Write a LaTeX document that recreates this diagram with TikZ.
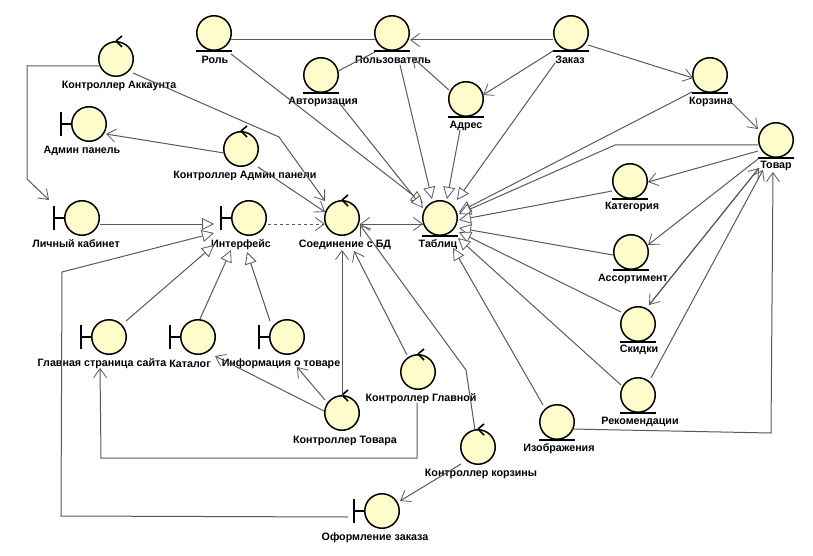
\documentclass[tikz,border=0pt]{standalone}
\usepackage{fontspec}
\setmainfont{Liberation Sans}
\usetikzlibrary{arrows.meta}

\tikzset{
  icon/.style={draw=black,line width=1.5pt,circle,fill=yellow!20,minimum size=34.5pt,inner sep=0pt},
  entity/.style={icon,append after command={([shift={(-18,18)}]\tikzlastnode.center) edge[mark line] ([shift={(18,18)}]\tikzlastnode.center)}},
  boundary/.style={icon,append after command={([shift={(-28,-12)}]\tikzlastnode.center) edge[mark line] ([shift={(-28,12)}]\tikzlastnode.center) ([shift={(-28,0)}]\tikzlastnode.center) edge[mark line] ([shift={(-17,0)}]\tikzlastnode.center)}},
  control/.style={icon,append after command={([shift={(6,-23)}]\tikzlastnode.center) edge[mark line] ([shift={(0,-18)}]\tikzlastnode.center) ([shift={(6,-12)}]\tikzlastnode.center) edge[mark line] ([shift={(0,-18)}]\tikzlastnode.center)}},
  mark line/.style={draw=black,line width=1.6pt},
  lbl/.style={font=\bfseries\fontsize{10.7}{12}\selectfont,inner sep=0pt,yshift=-1.5pt},
  link/.style={draw=black!65,line width=1pt},
  open/.style={link,-{Straight Barb[length=9pt,width=13pt,line width=0.8pt]}},
  hollow/.style={link,-{Triangle[length=12pt,width=12pt,fill=white,line width=0.8pt]}},
}

\begin{document}
\begin{tikzpicture}[x=1pt,y=-1pt]
\useasboundingbox (0,0) rectangle (813,556);

\node[entity] (role) at (214,33) {};
\node[entity] (user) at (392,33) {};
\node[entity] (order) at (571,33) {};
\node[entity] (auth) at (321,75) {};
\node[entity] (addr) at (466,99) {};
\node[entity] (cart) at (710,75) {};
\node[entity] (item) at (776,140) {};
\node[entity] (cat) at (630,181) {};
\node[entity] (range) at (631,252) {};
\node[entity] (sale) at (638,324) {};
\node[entity] (recs) at (638,395) {};
\node[entity] (imgs) at (557,422) {};
\node[entity] (tabl) at (440,218) {};

\node[boundary] (admin) at (89,124) {};
\node[boundary] (cabinet) at (82,218) {};
\node[boundary] (iface) at (249,218) {};
\node[boundary] (home) at (109,337) {};
\node[boundary] (catalog) at (198,337) {};
\node[boundary] (info) at (287,337) {};
\node[boundary] (checkout) at (382,511) {};

\node[control] (cacc) at (116,59) {};
\node[control] (cadmin) at (241,149) {};
\node[control] (db) at (342,218) {};
\node[control] (citem) at (342,413) {};
\node[control] (chome) at (418,372) {};
\node[control] (ccart) at (478,447) {};

\node[lbl] (rolel) at (215,58) {Роль};
\node[lbl] (userl) at (393,58) {Пользователь};
\node[lbl] (orderl) at (570,58) {Заказ};
\node[lbl] (authl) at (323,100) {Авторизация};
\node[lbl] (addrl) at (466,124) {Адрес};
\node[lbl] (cartl) at (711,100) {Корзина};
\node[lbl] (iteml) at (776,164) {Товар};
\node[lbl] (catl) at (632,205) {Категория};
\node[lbl] (rangel) at (633,277) {Ассортимент};
\node[lbl] (salel) at (639,348) {Скидки};
\node[lbl] (recsl) at (640,420) {Рекомендации};
\node[lbl] (imgsl) at (559,447) {Изображения};
\node[lbl] (tabll) at (438,243) {Таблиц};
\node[lbl] (adminl) at (82,149) {Админ панель};
\node[lbl] (cabinetl) at (76,242) {Личный кабинет};
\node[lbl] (ifacel) at (241,243) {Интерфейс};
\node[lbl] (homel) at (102,362) {Главная страница сайта};
\node[lbl] (catalogl) at (190,362) {Каталог};
\node[lbl] (infol) at (281,362) {Информация о товаре};
\node[lbl] (checkoutl) at (375,536) {Оформление заказа};
\node[lbl] (caccl) at (119,84) {Контроллер Аккаунта};
\node[lbl] (cadminl) at (245,174) {Контроллер Админ панели};
\node[lbl] (dbl) at (345,243) {Соединение с БД};
\node[lbl] (citeml) at (345,439) {Контроллер Товара};
\node[lbl] (chomel) at (421,397) {Контроллер Главной};
\node[lbl] (ccartl) at (481,472) {Контроллер корзины};

% top row
\draw[link] ([shift={(17,7)}]role.center) -- ([shift={(-17,7)}]user.center);
\draw[open] ([shift={(-18,7)}]order.center) -- ([shift={(18,7)}]user.center);
\draw[open] ([shift={(-18,18)}]order.center) -- ([shift={(17,-4)}]addr.center);
\draw[open] ([shift={(17,12)}]order.center) -- ([shift={(-17,3)}]cart.center);
\draw[open] ([shift={(-17,-9)}]addr.center) -- ([shift={(20,24)}]user.center);
\draw[link] ([shift={(17,-4)}]auth.center) -- ([shift={(-17,19)}]user.center);
\draw[open] ([shift={(21,27)}]cart.center) -- ([shift={(-18,-11)}]item.center);

% into the table
\draw[hollow] ([shift={(17,21)}]role.center) -- ([shift={(-17,-15)}]tabl.center);
\draw[hollow] ([shift={(19,29)}]auth.center) -- ([shift={(-17,-10)}]tabl.center);
\draw[hollow] ([shift={(8,32)}]user.center) -- ([shift={(-8,-19)}]tabl.center);
\draw[hollow] ([shift={(-6,31)}]addr.center) -- ([shift={(7,-19)}]tabl.center);
\draw[hollow] ([shift={(-16,30)}]order.center) -- ([shift={(17,-18)}]tabl.center);
\draw[hollow] ([shift={(-18,17)}]cart.center) -- ([shift={(19,-6)}]tabl.center);
\draw[hollow] ([shift={(-18,5)}]item.center) -- (615,145) -- ([shift={(19,-4)}]tabl.center);
\draw[hollow] ([shift={(-18,10)}]cat.center) -- ([shift={(19,2)}]tabl.center);
\draw[hollow] ([shift={(-18,3)}]range.center) -- ([shift={(19,10)}]tabl.center);
\draw[hollow] ([shift={(-17,-12)}]sale.center) -- ([shift={(19,14)}]tabl.center);
\draw[hollow] ([shift={(-17,-10)}]recs.center) -- ([shift={(18,20)}]tabl.center);
\draw[hollow] ([shift={(-14,-17)}]imgs.center) -- ([shift={(13,30)}]tabl.center);

% goods
\draw[open] ([shift={(-18,11)}]item.center) -- ([shift={(18,1)}]cat.center);
\draw[open] ([shift={(-18,19)}]item.center) -- ([shift={(17,-7)}]range.center);
\draw[open] ([shift={(-17,28)}]item.center) -- ([shift={(11,-19)}]sale.center);
\draw[open] ([shift={(11,-19)}]sale.center) -- ([shift={(-17,28)}]item.center);
\draw[open] ([shift={(13,-17)}]recs.center) -- ([shift={(-13,30)}]item.center);
\draw[open] ([shift={(14,7)}]imgs.center) -- (771,433) -- ([shift={(-3,32)}]item.center);

% left side
\draw[open] ([shift={(-17,7)}]cacc.center) -- (27,66) -- (27,179) -- ([shift={(-33,-18)}]cabinet.center);
\draw[open] ([shift={(17,14)}]cacc.center) -- (279,137) -- ([shift={(-17,-17)}]db.center);
\draw[open] ([shift={(-17,4)}]cadmin.center) -- ([shift={(17,10)}]admin.center);
\draw[open] ([shift={(17,18)}]cadmin.center) -- ([shift={(-17,-6)}]db.center);
\draw[hollow] ([shift={(18,6)}]cabinet.center) -- ([shift={(-35,6)}]iface.center);
\draw[open,dashed] ([shift={(19,6)}]iface.center) -- ([shift={(-17,6)}]db.center);
\draw[open] ([shift={(-17,6)}]tabl.center) -- ([shift={(18,6)}]db.center);
\draw[open] ([shift={(18,6)}]db.center) -- ([shift={(-17,6)}]tabl.center);
\draw[hollow] ([shift={(-34,6)}]checkout.center) -- (61,516) -- (62,272) -- ([shift={(-35,15)}]iface.center);
\draw[hollow] ([shift={(17,-16)}]home.center) -- ([shift={(-35,27)}]iface.center);
\draw[hollow] ([shift={(2,-18)}]catalog.center) -- ([shift={(-18,32)}]iface.center);
\draw[hollow] ([shift={(-17,-16)}]info.center) -- ([shift={(-2,34)}]iface.center);

% bottom
\draw[open] ([shift={(0,-17)}]citem.center) -- ([shift={(0,32)}]db.center);
\draw[open] ([shift={(-11,-17)}]chome.center) -- ([shift={(12,33)}]db.center);
\draw[open] ([shift={(-18,-2)}]citem.center) -- ([shift={(17,19)}]catalog.center);
\draw[open] ([shift={(-17,-13)}]citem.center) -- ([shift={(10,30)}]info.center);
\draw[open] ([shift={(-1,31)}]chome.center) -- (417,458) -- (101,458) -- ([shift={(-9,31)}]home.center);
\draw[open] ([shift={(-3,-17)}]ccart.center) -- (466,370) -- ([shift={(18,7)}]db.center);
\draw[open] ([shift={(-17,17)}]ccart.center) -- ([shift={(18,-10)}]checkout.center);

\end{tikzpicture}
\end{document}
